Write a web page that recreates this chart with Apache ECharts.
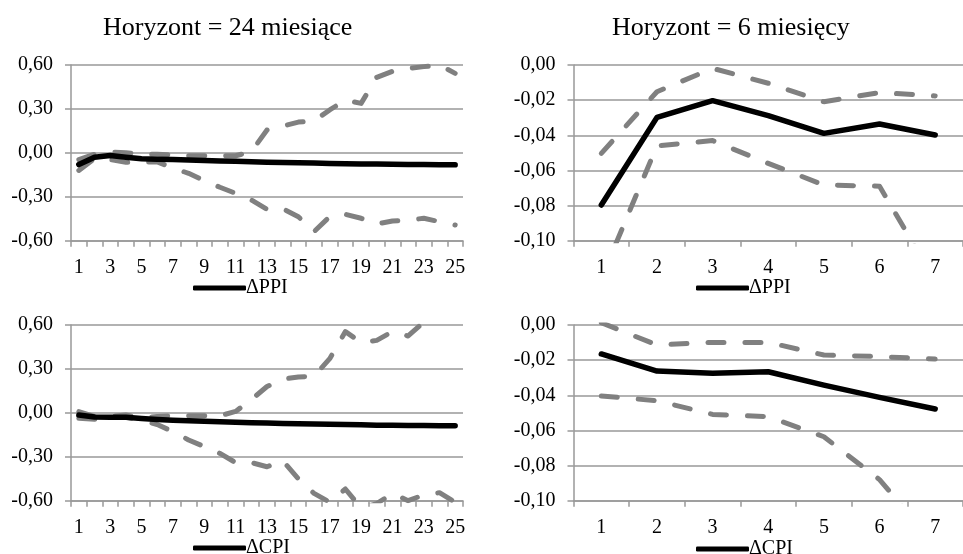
<!DOCTYPE html>
<html>
<head>
<meta charset="utf-8">
<title>Horyzont</title>
<script src="https://cdn.jsdelivr.net/npm/echarts/dist/echarts.min.js"></script>
<style>
html,body{margin:0;padding:0;background:#fff;}
#chart{width:963px;height:554px;}
</style>
</head>
<body>
<div id="chart"></div>
<script>
// kategorie (miesiace)
var months24 = ['1','2','3','4','5','6','7','8','9','10','11','12','13','14','15','16','17','18','19','20','21','22','23','24','25'];
var months6 = ['1','2','3','4','5','6','7'];

// ΔPPI, horyzont 24
var ppi24 = [-0.080,-0.030,-0.018,-0.030,-0.040,-0.043,-0.046,-0.049,-0.052,-0.055,-0.058,-0.061,-0.064,-0.066,-0.068,-0.070,-0.072,-0.074,-0.076,-0.077,-0.078,-0.079,-0.080,-0.081,-0.082];
var ppi24Up = [-0.046,-0.010,0.005,0.000,-0.010,-0.010,-0.015,-0.020,-0.020,-0.020,-0.020,0.008,0.156,0.183,0.210,0.218,0.293,0.361,0.338,0.515,0.557,0.577,0.589,0.600,0.543];
var ppi24Low = [-0.120,-0.040,-0.046,-0.064,-0.062,-0.062,-0.103,-0.140,-0.190,-0.235,-0.277,-0.322,-0.386,-0.381,-0.436,-0.538,-0.436,-0.420,-0.447,-0.486,-0.466,-0.459,-0.447,-0.470,-0.493];

// ΔPPI, horyzont 6
var ppi6 = [-0.0797,-0.0298,-0.0203,-0.0288,-0.0389,-0.0336,-0.0398];
var ppi6Up = [-0.0503,-0.0152,-0.0019,-0.0104,-0.0209,-0.0157,-0.0176];
var ppi6Low = [-0.1214,-0.0460,-0.0430,-0.0560,-0.0683,-0.0690,-0.1230];

// ΔCPI, horyzont 24
var cpi24 = [-0.015,-0.028,-0.030,-0.030,-0.038,-0.045,-0.050,-0.054,-0.058,-0.061,-0.064,-0.067,-0.070,-0.072,-0.074,-0.076,-0.078,-0.080,-0.082,-0.084,-0.085,-0.086,-0.087,-0.088,-0.088];
var cpi24Up = [0.008,-0.025,-0.025,-0.015,-0.035,-0.025,-0.020,-0.020,-0.020,-0.020,0.010,0.090,0.180,0.230,0.245,0.250,0.370,0.555,0.480,0.495,0.555,0.525,0.620,0.680,0.720];
var cpi24Low = [-0.037,-0.044,-0.030,-0.030,-0.050,-0.080,-0.128,-0.185,-0.230,-0.277,-0.340,-0.340,-0.368,-0.327,-0.450,-0.550,-0.610,-0.520,-0.650,-0.620,-0.550,-0.600,-0.560,-0.545,-0.610];

// ΔCPI, horyzont 6
var cpi6 = [-0.0165,-0.0262,-0.0275,-0.0266,-0.0342,-0.0412,-0.0478];
var cpi6Up = [0.0013,-0.0114,-0.0099,-0.0099,-0.0171,-0.0180,-0.0194];
var cpi6Low = [-0.0404,-0.0431,-0.0509,-0.0522,-0.0636,-0.0880,-0.1250];

var FONT = 'Liberation Serif';
var GRAY = '#999999';

// wspolne ustawienia osi
function makeX(idx, cats, every){
    return {
        type: 'category',
        gridIndex: idx,
        data: cats,
        boundaryGap: true,
        axisLine: {onZero: false, lineStyle: {color: GRAY, width: 1.5}},
        axisTick: {show: true, interval: 0, length: 6, lineStyle: {color: GRAY, width: 1.5}},
        axisLabel: {interval: every, margin: 17, color: '#000', fontFamily: FONT, fontSize: 20},
        splitLine: {show: false}
    };
}
function makeY(idx, min, max, step){
    return {
        type: 'value',
        gridIndex: idx,
        min: min, max: max, interval: step,
        axisLine: {show: true, lineStyle: {color: GRAY, width: 1.5}},
        axisTick: {show: true, length: 6, lineStyle: {color: GRAY, width: 1.5}},
        axisLabel: {
            margin: 18, color: '#000', fontFamily: FONT, fontSize: 20,
            formatter: function(v){ return v.toFixed(2).replace('.', ','); }
        },
        splitLine: {show: true, lineStyle: {color: GRAY, width: 1.5}}
    };
}
function mainLine(name, idx, data){
    return {
        name: name, type: 'line', xAxisIndex: idx, yAxisIndex: idx,
        data: data, symbol: 'none', z: 5,
        lineStyle: {color: '#000', width: 5.5, cap: 'round', join: 'round'},
        itemStyle: {color: '#000'}
    };
}
function bandLine(name, idx, data){
    return {
        name: name, type: 'line', xAxisIndex: idx, yAxisIndex: idx,
        data: data, symbol: 'none', z: 3,
        lineStyle: {color: '#808080', width: 5, type: [16, 21], cap: 'round', join: 'round'},
        itemStyle: {color: '#808080'}
    };
}
function makeLegend(name, left, top){
    return {
        data: [name], left: left, top: top, padding: 0,
        icon: 'roundRect', itemWidth: 53, itemHeight: 5, itemGap: 0,
        textStyle: {color: '#000', fontFamily: FONT, fontSize: 20, padding: [0,0,0,-5]},
        selectedMode: false
    };
}

var chart = echarts.init(document.getElementById('chart'));
var option = {
    backgroundColor: '#fff',
    animation: false,
    title: [
        {text: 'Horyzont = 24 miesiące', left: 103, top: 15, padding: 0,
         textStyle: {fontFamily: FONT, fontSize: 26, fontWeight: 'normal', color: '#000'}},
        {text: 'Horyzont = 6 miesięcy', left: 612, top: 15, padding: 0,
         textStyle: {fontFamily: FONT, fontSize: 26, fontWeight: 'normal', color: '#000'}}
    ],
    legend: [
        makeLegend('ΔPPI', 193, 278),
        makeLegend('ΔPPI ', 696, 278),
        makeLegend('ΔCPI', 193, 538),
        makeLegend('ΔCPI ', 696, 539)
    ],
    grid: [
        {left: 71, top: 65, width: 392, height: 175.7},
        {left: 573.5, top: 65, width: 394, height: 175.7},
        {left: 71, top: 325, width: 392, height: 175.7},
        {left: 573.5, top: 325, width: 394, height: 175.7}
    ],
    xAxis: [
        makeX(0, months24, 1),
        makeX(1, months6, 0),
        makeX(2, months24, 1),
        makeX(3, months6, 0)
    ],
    yAxis: [
        makeY(0, -0.6, 0.6, 0.3),
        makeY(1, -0.1, 0, 0.02),
        makeY(2, -0.6, 0.6, 0.3),
        makeY(3, -0.1, 0, 0.02)
    ],
    series: [
        bandLine('ppi24 gora', 0, ppi24Up),
        bandLine('ppi24 dol', 0, ppi24Low),
        mainLine('ΔPPI', 0, ppi24),
        bandLine('ppi6 gora', 1, ppi6Up),
        bandLine('ppi6 dol', 1, ppi6Low),
        mainLine('ΔPPI ', 1, ppi6),
        bandLine('cpi24 gora', 2, cpi24Up),
        bandLine('cpi24 dol', 2, cpi24Low),
        mainLine('ΔCPI', 2, cpi24),
        bandLine('cpi6 gora', 3, cpi6Up),
        bandLine('cpi6 dol', 3, cpi6Low),
        mainLine('ΔCPI ', 3, cpi6)
    ]
};
chart.setOption(option);
</script>
</body>
</html>
